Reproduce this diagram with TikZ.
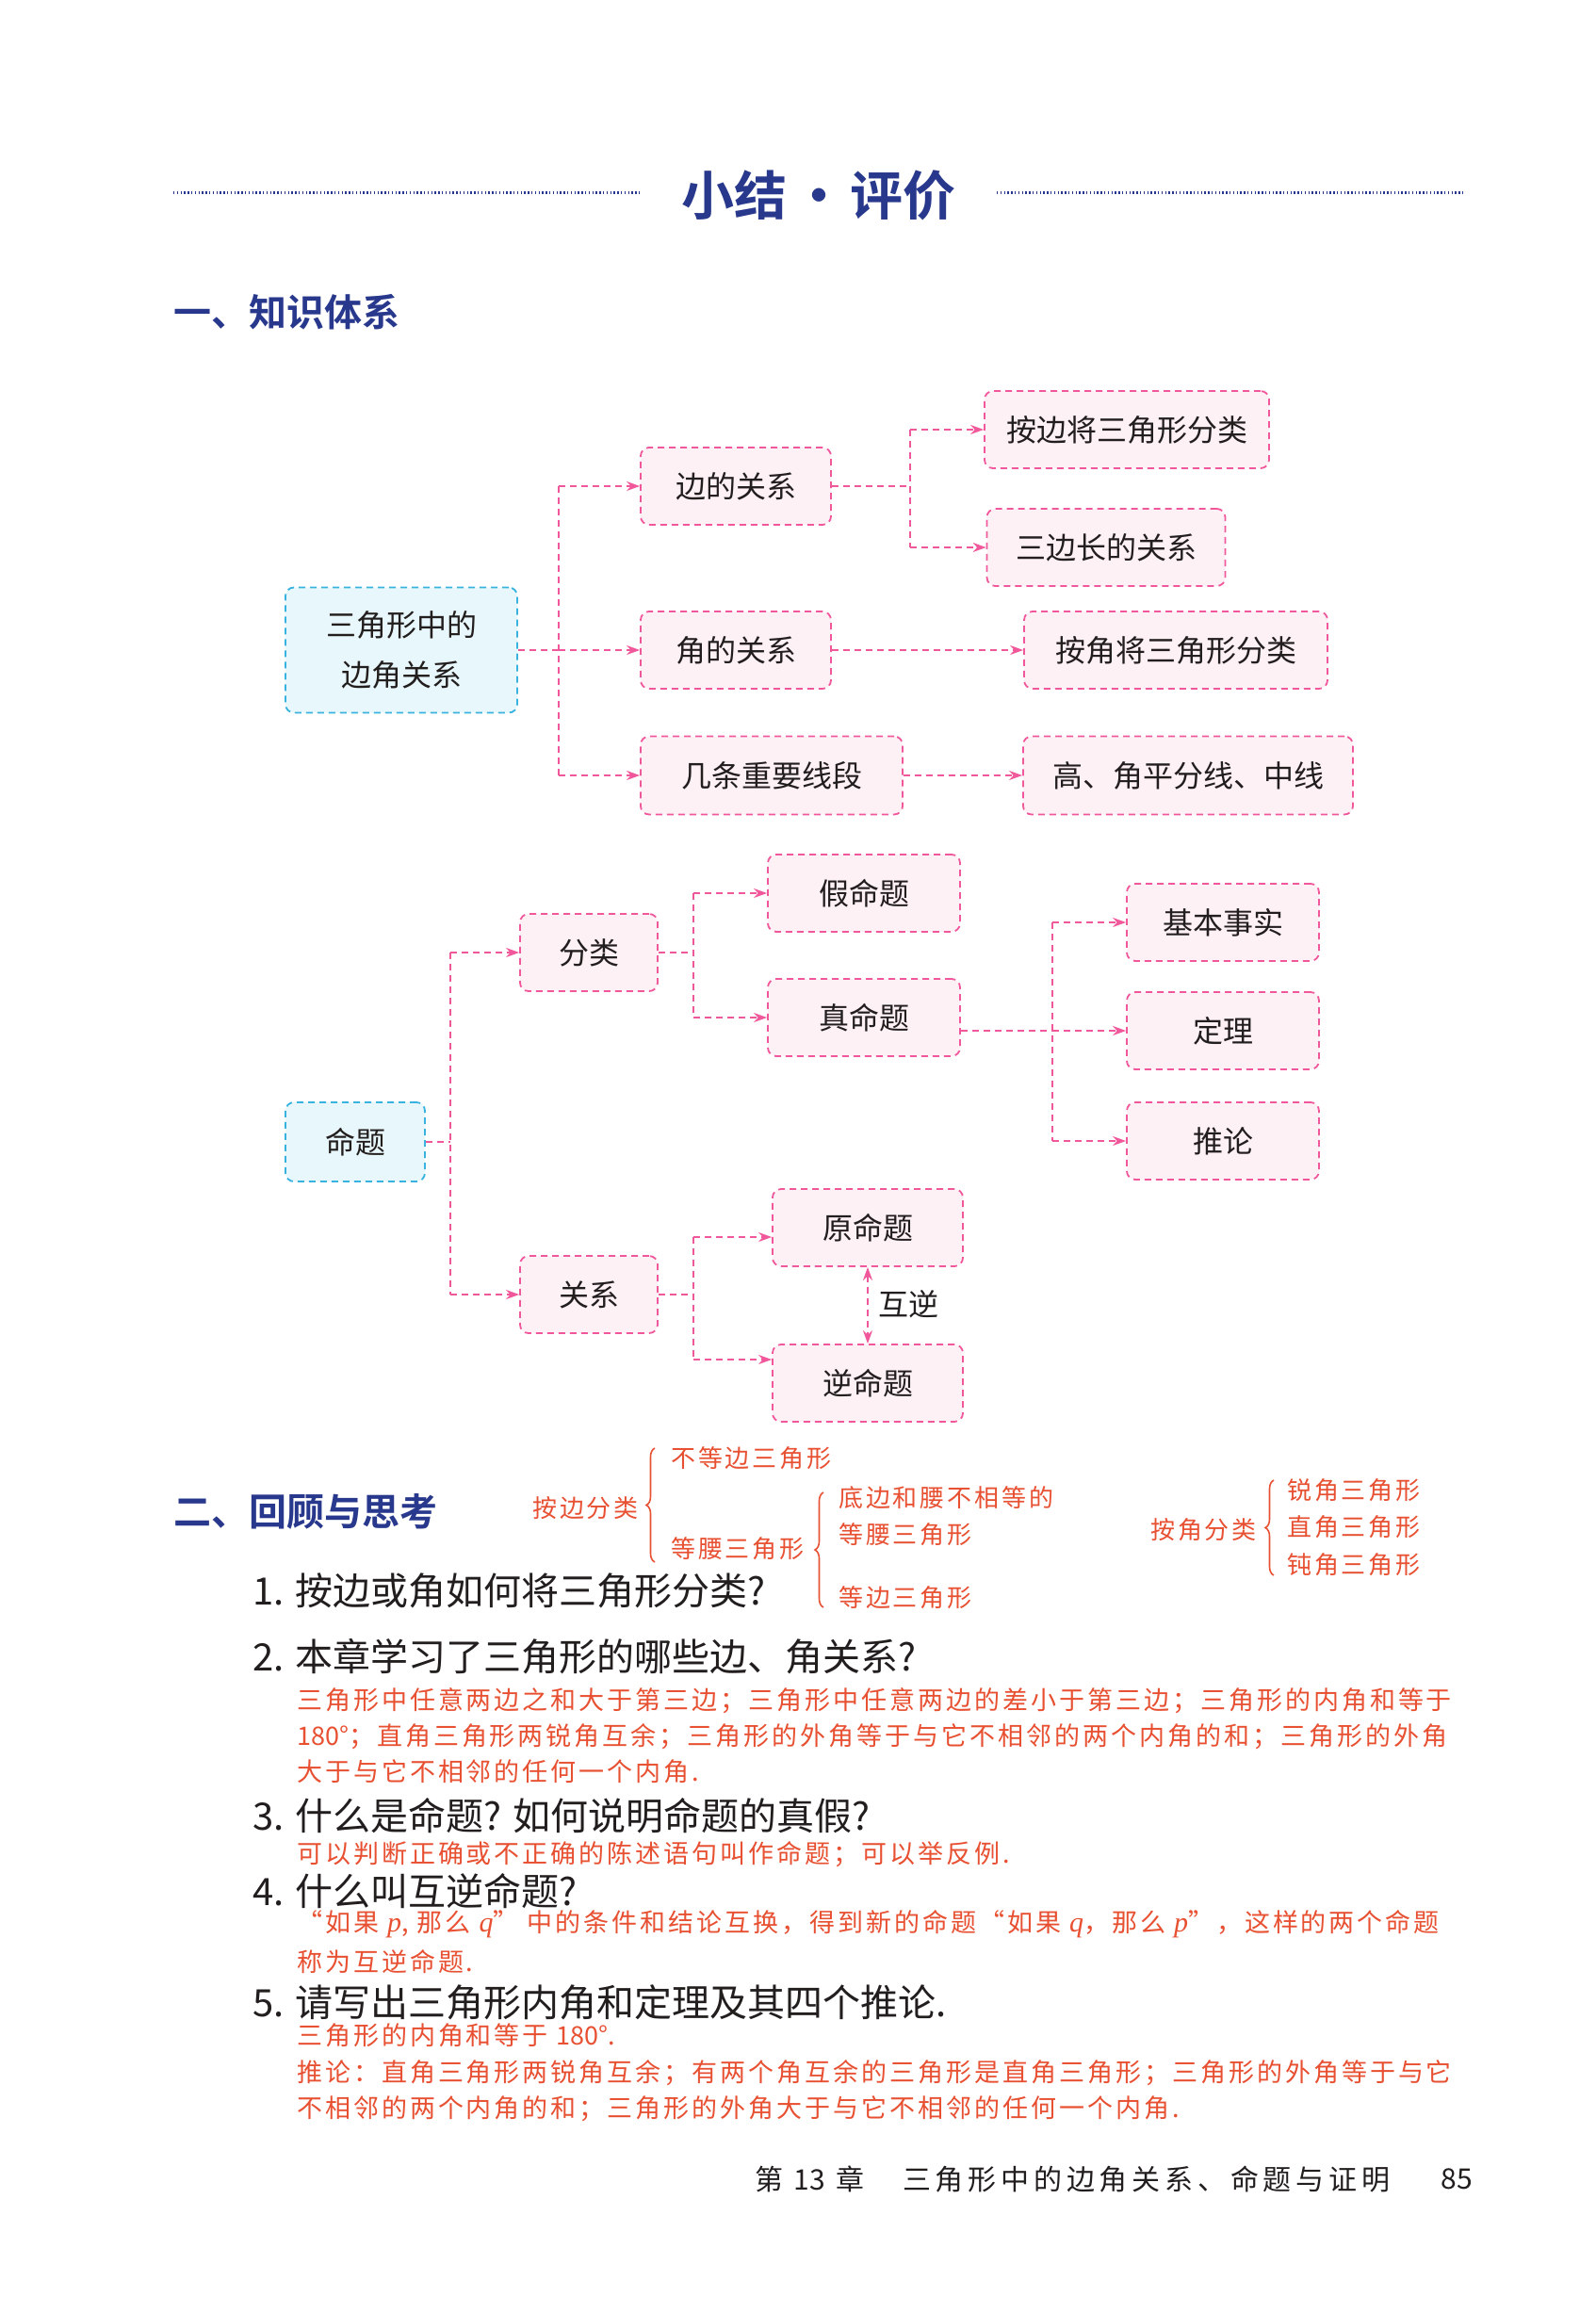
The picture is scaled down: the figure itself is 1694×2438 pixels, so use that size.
\documentclass[tikz,border=0pt]{standalone}
\usepackage{fontspec}
\usetikzlibrary{arrows.meta,decorations.pathreplacing}
\newfontfamily\cjk{Noto Sans CJK SC}
\newfontfamily\cjkbold{Noto Sans CJK SC Bold}
\newfontfamily\cjkred{Noto Sans CJK SC}[LetterSpace=11]
\newfontfamily\cjkfoot{Noto Sans CJK SC}[LetterSpace=16]
\newfontfamily\serif{Liberation Serif}
\newcommand{\vp}[1]{{\serif\itshape\fontsize{30pt}{30pt}\selectfont #1}}
\newcommand{\dg}[1]{{\cjk #1}}
\definecolor{titleblue}{RGB}{40,56,140}
\definecolor{pinkc}{RGB}{240,88,155}
\definecolor{cyanc}{RGB}{56,178,222}
\definecolor{pinkfill}{RGB}{253,241,246}
\definecolor{cyanfill}{RGB}{232,247,251}
\definecolor{redtext}{RGB}{232,80,50}
\definecolor{textc}{RGB}{35,30,30}
\tikzset{
  pbox/.style={draw=pinkc, fill=pinkfill, rounded corners=9pt, line width=1.8pt,
    dash pattern=on 7pt off 5pt, minimum height=82pt, inner sep=0pt,
    text=textc, font=\cjk\fontsize{32pt}{53pt}\selectfont, align=center},
  cbox/.style={pbox, draw=cyanc, fill=cyanfill},
  conn/.style={draw=pinkc, line width=1.8pt, dash pattern=on 7pt off 5pt},
  arr/.style={conn, -{Stealth[length=14pt,width=10pt]}},
  darr/.style={conn, {Stealth[length=14pt,width=10pt]}-{Stealth[length=14pt,width=10pt]}},
  lbl/.style={text=textc, font=\cjk\fontsize{32pt}{38pt}\selectfont, inner sep=0pt},
  titlef/.style={text=titleblue, font=\cjkbold\fontsize{56pt}{60pt}\selectfont, inner sep=0pt},
  headf/.style={text=titleblue, font=\cjkbold\fontsize{40pt}{44pt}\selectfont, inner sep=0pt, anchor=west},
  dotline/.style={draw=titleblue, line width=3pt, dash pattern=on 1.4pt off 2.4pt},
  note/.style={text=redtext, font=\cjkred\fontsize{26pt}{30pt}\selectfont, inner sep=0pt, anchor=west},
  ans/.style={text=redtext, font=\cjkred\fontsize{27pt}{32pt}\selectfont, inner sep=0pt, anchor=west},
  quest/.style={text=textc, font=\cjk\fontsize{40pt}{46pt}\selectfont, inner sep=0pt, anchor=west},
  foot/.style={text=textc, font=\cjkfoot\fontsize{30pt}{34pt}\selectfont, inner sep=0pt},
  bracec/.style={draw=redtext, line width=1.6pt, decorate, decoration={brace, amplitude=9pt}},
}
\begin{document}
\begin{tikzpicture}[x=1pt,y=-1pt]
\path[use as bounding box, fill=white] (0,0) rectangle (1694,2438);

% title
\node[titlef] (title) at (869,207) {小结\hspace{6pt}·\hspace{6pt}评价};
\draw[dotline] (184,204) -- (680,204);
\draw[dotline] (1058,204) -- (1553,204);

\node[headf] (h1) at (184,331) {一、知识体系};

% diagram 1
\node[cbox, minimum width=246pt, minimum height=133pt] (tri) at (426,690) {三角形中的\\边角关系};
\node[pbox, minimum width=202pt] (side) at (781,516) {边的关系};
\node[pbox, minimum width=202pt] (angle) at (781,690) {角的关系};
\node[pbox, minimum width=278pt, minimum height=83pt] (seg) at (819,823) {几条重要线段};
\node[pbox, minimum width=302pt] (bySide) at (1196,456) {按边将三角形分类};
\node[pbox, minimum width=253pt] (three) at (1174,581) {三边长的关系};
\node[pbox, minimum width=322pt] (byAngle) at (1248,690) {按角将三角形分类};
\node[pbox, minimum width=350pt, minimum height=83pt] (hi) at (1261,823) {高、角平分线、中线};

\coordinate (j1) at (593,690);
\draw[conn] (tri.east) -- (j1);
\draw[conn] (j1 |- side) -- (j1 |- seg);
\draw[arr] (j1 |- side) -- (side.west);
\draw[arr] (j1 |- angle) -- (angle.west);
\draw[arr] (j1 |- seg) -- (seg.west);

\coordinate (j2) at (966,516);
\draw[conn] (side.east) -- (j2);
\draw[conn] (j2 |- bySide) -- (j2 |- three);
\draw[arr] (j2 |- bySide) -- (bySide.west);
\draw[arr] (j2 |- three) -- (three.west);
\draw[arr] (angle.east) -- (byAngle.west);
\draw[arr] (seg.east) -- (hi.west);

% diagram 2
\node[cbox, minimum width=148pt, minimum height=84pt] (prop) at (377,1212) {命题};
\node[pbox, minimum width=146pt] (cls) at (625,1011) {分类};
\node[pbox, minimum width=146pt] (rel) at (625,1374) {关系};
\node[pbox, minimum width=204pt] (false) at (917,948) {假命题};
\node[pbox, minimum width=204pt] (true) at (917,1080) {真命题};
\node[pbox, minimum width=204pt] (fact) at (1298,979) {基本事实};
\node[pbox, minimum width=204pt] (thm) at (1298,1094) {定理};
\node[pbox, minimum width=204pt] (cor) at (1298,1211) {推论};
\node[pbox, minimum width=202pt] (orig) at (921,1303) {原命题};
\node[pbox, minimum width=202pt] (inv) at (921,1468) {逆命题};

\coordinate (j3) at (478,1212);
\draw[conn] (prop.east) -- (j3);
\draw[conn] (j3 |- cls) -- (j3 |- rel);
\draw[arr] (j3 |- cls) -- (cls.west);
\draw[arr] (j3 |- rel) -- (rel.west);

\coordinate (j4) at (736,1011);
\draw[conn] (cls.east) -- (j4);
\draw[conn] (j4 |- false) -- (j4 |- true);
\draw[arr] (j4 |- false) -- (false.west);
\draw[arr] (j4 |- true) -- (true.west);

\coordinate (j5) at (1117,1094);
\draw[conn] (true.east |- thm) -- (j5);
\draw[conn] (j5 |- fact) -- (j5 |- cor);
\draw[arr] (j5 |- fact) -- (fact.west);
\draw[arr] (j5) -- (thm.west);
\draw[arr] (j5 |- cor) -- (cor.west);

\coordinate (j6) at (736,1374);
\coordinate (a1) at (736,1313);
\coordinate (a2) at (736,1443);
\draw[conn] (rel.east) -- (j6);
\draw[conn] (a1) -- (a2);
\draw[arr] (a1) -- (a1 -| orig.west);
\draw[arr] (a2) -- (a2 -| inv.west);
\draw[darr] (orig.south) -- (inv.north);
\node[lbl] (mutual) at (964,1384) {互逆};

% section 2
\node[headf] (h2) at (184,1604) {二、回顾与思考};

\node[note] (n1) at (565,1601) {按边分类};
\draw[bracec] (695,1658) -- (695,1537);
\node[note] (n2) at (712,1548) {不等边三角形};
\node[note] (n3) at (712,1644) {等腰三角形};
\draw[bracec] (874,1706) -- (874,1584);
\node[note] (n4) at (890,1590) {底边和腰不相等的};
\node[note] (n5) at (890,1629) {等腰三角形};
\node[note] (n6) at (890,1696) {等边三角形};

\node[note] (n7) at (1221,1624) {按角分类};
\draw[bracec] (1352,1672) -- (1352,1571);
\node[note] (n8) at (1366,1582) {锐角三角形};
\node[note] (n9) at (1366,1621) {直角三角形};
\node[note] (n10) at (1366,1661) {钝角三角形};

\node[quest] (q1) at (268,1688) {1. 按边或角如何将三角形分类?};
\node[quest] (q2) at (268,1758) {2. 本章学习了三角形的哪些边、角关系?};
\node[ans] (r1) at (315,1805) {三角形中任意两边之和大于第三边；三角形中任意两边的差小于第三边；三角形的内角和等于};
\node[ans] (r2) at (315,1843) {\dg{180°}；直角三角形两锐角互余；三角形的外角等于与它不相邻的两个内角的和；三角形的外角};
\node[ans] (r3) at (315,1880) {大于与它不相邻的任何一个内角.};
\node[quest] (q3) at (268,1927) {3. 什么是命题? 如何说明命题的真假?};
\node[ans] (r4) at (315,1968) {可以判断正确或不正确的陈述语句叫作命题；可以举反例.};
\node[quest] (q4) at (268,2007) {4. 什么叫互逆命题?};
\node[ans] (r5) at (315,2042) {“如果 \vp{p}, 那么 \vp{q}” 中的条件和结论互换，得到新的命题“如果 \vp{q}，那么 \vp{p}”，这样的两个命题};
\node[ans] (r6) at (315,2082) {称为互逆命题.};
\node[quest] (q5) at (268,2125) {5. 请写出三角形内角和定理及其四个推论.};
\node[ans] (r7) at (315,2160) {三角形的内角和等于 \dg{180°}.};
\node[ans] (r8) at (315,2200) {推论：直角三角形两锐角互余；有两个角互余的三角形是直角三角形；三角形的外角等于与它};
\node[ans] (r9) at (315,2238) {不相邻的两个内角的和；三角形的外角大于与它不相邻的任何一个内角.};

% footer
\node[foot, anchor=west] (f1) at (801,2313) {第 \dg{13} 章};
\node[foot, anchor=west] (f2) at (958,2313) {三角形中的边角关系、命题与证明};
\node[foot, anchor=east] (f3) at (1563,2313) {\dg{85}};
\end{tikzpicture}
\end{document}
